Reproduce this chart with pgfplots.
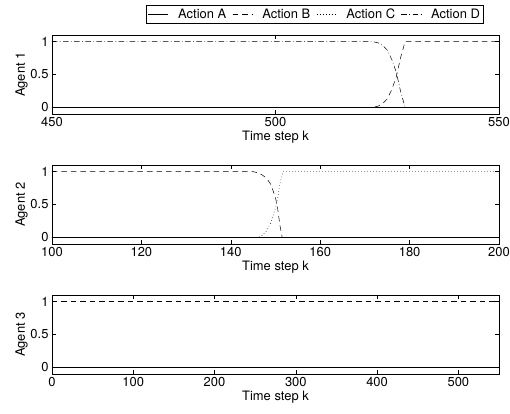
\documentclass[border=0pt]{standalone}
\usepackage{fontspec}
\setmainfont{TeX Gyre Heros}
\usepackage{pgfplots}
\pgfplotsset{compat=1.18}

\pgfplotsset{
  agent/.style={
    scale only axis, width=447bp, height=79bp,
    ymin=-0.1, ymax=1.1, ytick={0,0.5,1},
    tick align=inside, major tick length=4bp,
    xlabel={Time step k},
    font=\fontsize{13}{15}\selectfont,
    /pgf/number format/assume math mode=true,
    axis line style={line width=0.7pt},
    every tick/.style={black, line width=0.5pt},
    ylabel style={yshift=-4bp},
    xlabel style={yshift=3bp},
  },
  actA/.style={black, line width=0.5pt, solid},
  actB/.style={black, line width=0.5pt, dash pattern=on 5.5bp off 4bp},
  actC/.style={black, line width=0.5pt, dash pattern=on 0.6bp off 2.4bp},
  actD/.style={black, line width=0.5pt, dash pattern=on 5.5bp off 2.5bp on 0.6bp off 2.5bp},
}

\begin{document}
\begin{tikzpicture}
% agent 1
\begin{axis}[agent, at={(0,260bp)}, xmin=450, xmax=550, xtick={450,500,550},
  ylabel={Agent 1},
  legend columns=4,
  legend style={at={(0.966,1.38)}, anchor=north east, draw=black, line width=0.7pt,
    inner sep=1.5bp, font=\fontsize{13}{15}\selectfont,
    /tikz/every even column/.append style={column sep=4bp},
    /tikz/every odd column/.append style={column sep=7.5bp}},
  legend image code/.code={\draw[#1] (0bp,0bp) -- (20bp,0bp);},
  legend cell align=left]
  \addplot[actA] coordinates {(450,0)(550,0)};
  \addplot[actB] coordinates {(450,0)(521,0)(522,0.005)(523,0.02)(524,0.06)(525,0.13)(526,0.27)(527,0.46)(528,0.76)(529,1)(550,1)};
  \addplot[actC] coordinates {(450,0)(550,0)};
  \addplot[actD] coordinates {(450,1)(521,1)(522,0.995)(523,0.98)(524,0.94)(525,0.87)(526,0.73)(527,0.54)(528,0.24)(529,0)(550,0)};
  \legend{Action A,Action B,Action C,Action D}
\end{axis}
% agent 2
\begin{axis}[agent, at={(0,130bp)}, xmin=100, xmax=200, xtick={100,120,...,200},
  ylabel={Agent 2}]
  \addplot[actA] coordinates {(100,0)(200,0)};
  \addplot[actB] coordinates {(100,1)(145,1)(146,0.98)(147,0.95)(148,0.9)(149,0.8)(150,0.6)(150.5,0.43)(151,0.18)(151.5,0)(200,0)};
  \addplot[actC] coordinates {(100,0)(146,0)(147,0.03)(148,0.1)(149,0.23)(150,0.45)(150.5,0.6)(151,0.82)(151.7,1)(200,1)};
  \addplot[actD] coordinates {(100,0)(200,0)};
\end{axis}
% agent 3
\begin{axis}[agent, at={(0,0bp)}, xmin=0, xmax=550, xtick={0,100,...,500},
  ylabel={Agent 3}]
  \addplot[actA] coordinates {(0,0)(550,0)};
  \addplot[actB] coordinates {(0,1)(550,1)};
  \addplot[actC] coordinates {(0,0)(550,0)};
  \addplot[actD] coordinates {(0,0)(550,0)};
\end{axis}
\pgfresetboundingbox
\path (-52bp,-40bp) rectangle (458bp,374bp);
\end{tikzpicture}
\end{document}
